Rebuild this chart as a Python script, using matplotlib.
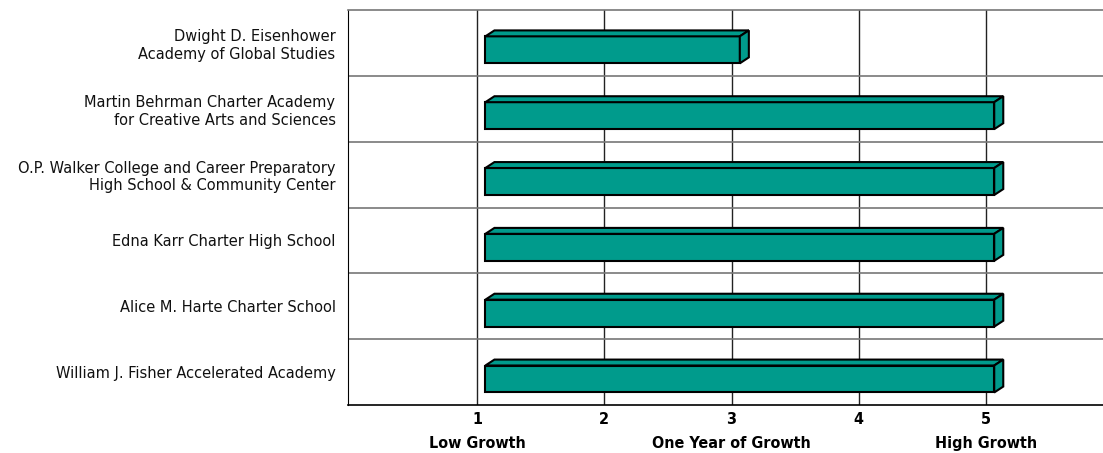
import matplotlib.pyplot as plt
from matplotlib.patches import Polygon
from matplotlib.transforms import blended_transform_factory

# Data
schools = [
    "Dwight D. Eisenhower\nAcademy of Global Studies",
    "Martin Behrman Charter Academy\nfor Creative Arts and Sciences",
    "O.P. Walker College and Career Preparatory\nHigh School & Community Center",
    "Edna Karr Charter High School",
    "Alice M. Harte Charter School",
    "William J. Fisher Accelerated Academy",
]
growth = [3, 5, 5, 5, 5, 5]
base = 1
ticks = [1, 2, 3, 4, 5]
tick_notes = {1: "Low Growth", 3: "One Year of Growth", 5: "High Growth"}

face = "#009b8c"

fig = plt.figure(figsize=(11.03, 4.53), dpi=100)
ax = fig.add_axes([348 / 1103, 1 - 405 / 453, 1 - 348 / 1103, 395 / 453])
ax.set_xlim(-0.015, 5.92)
ax.set_ylim(len(schools) - 0.5, -0.5)

# grid
for t in ticks:
    ax.axvline(t, color="#222222", lw=1, zorder=1)
for i in range(1, len(schools)):
    ax.axhline(i - 0.5, color="#777777", lw=1.2, zorder=1)

# 3D-ish bars
shift = 0.065   # front face offset
dx, dy = 0.071, 0.09  # depth
h = 0.41
for i, v in enumerate(growth):
    x0, x1 = base + shift, v + shift
    yc = i + 0.105
    yt, yb = yc - h / 2, yc + h / 2
    front = Polygon([(x0, yt), (x1, yt), (x1, yb), (x0, yb)], closed=True,
                    fc=face, ec="black", lw=1.5, zorder=3)
    top = Polygon([(x0, yt), (x0 + dx, yt - dy), (x1 + dx, yt - dy), (x1, yt)],
                  closed=True, fc=face, ec="black", lw=1.5, zorder=3)
    side = Polygon([(x1, yt), (x1 + dx, yt - dy), (x1 + dx, yb - dy), (x1, yb)],
                   closed=True, fc=face, ec="black", lw=1.5, zorder=3)
    for p in (front, top, side):
        ax.add_patch(p)

ax.set_yticks(range(len(schools)))
ax.set_yticklabels(schools, fontsize=10.5, color="#111111")
ax.set_xticks(ticks)
ax.set_xticklabels([str(t) for t in ticks], fontsize=11.5, fontweight="bold",
                   fontstretch="condensed")
ax.tick_params(length=0)
ax.tick_params(axis="x", pad=5)
ax.tick_params(axis="y", pad=9)

trans = blended_transform_factory(ax.transData, ax.transAxes)
for t, note in tick_notes.items():
    ax.text(t, -0.097, note, transform=trans, ha="center", va="center",
            fontsize=11.5, fontweight="bold", fontstretch="condensed")

ax.spines["right"].set_visible(False)
ax.spines["top"].set_color("#777777")
ax.spines["top"].set_linewidth(1.2)
ax.spines["left"].set_color("black")
ax.spines["bottom"].set_color("black")
ax.spines["bottom"].set_linewidth(1.2)

fig.savefig("out.png", dpi=100)
